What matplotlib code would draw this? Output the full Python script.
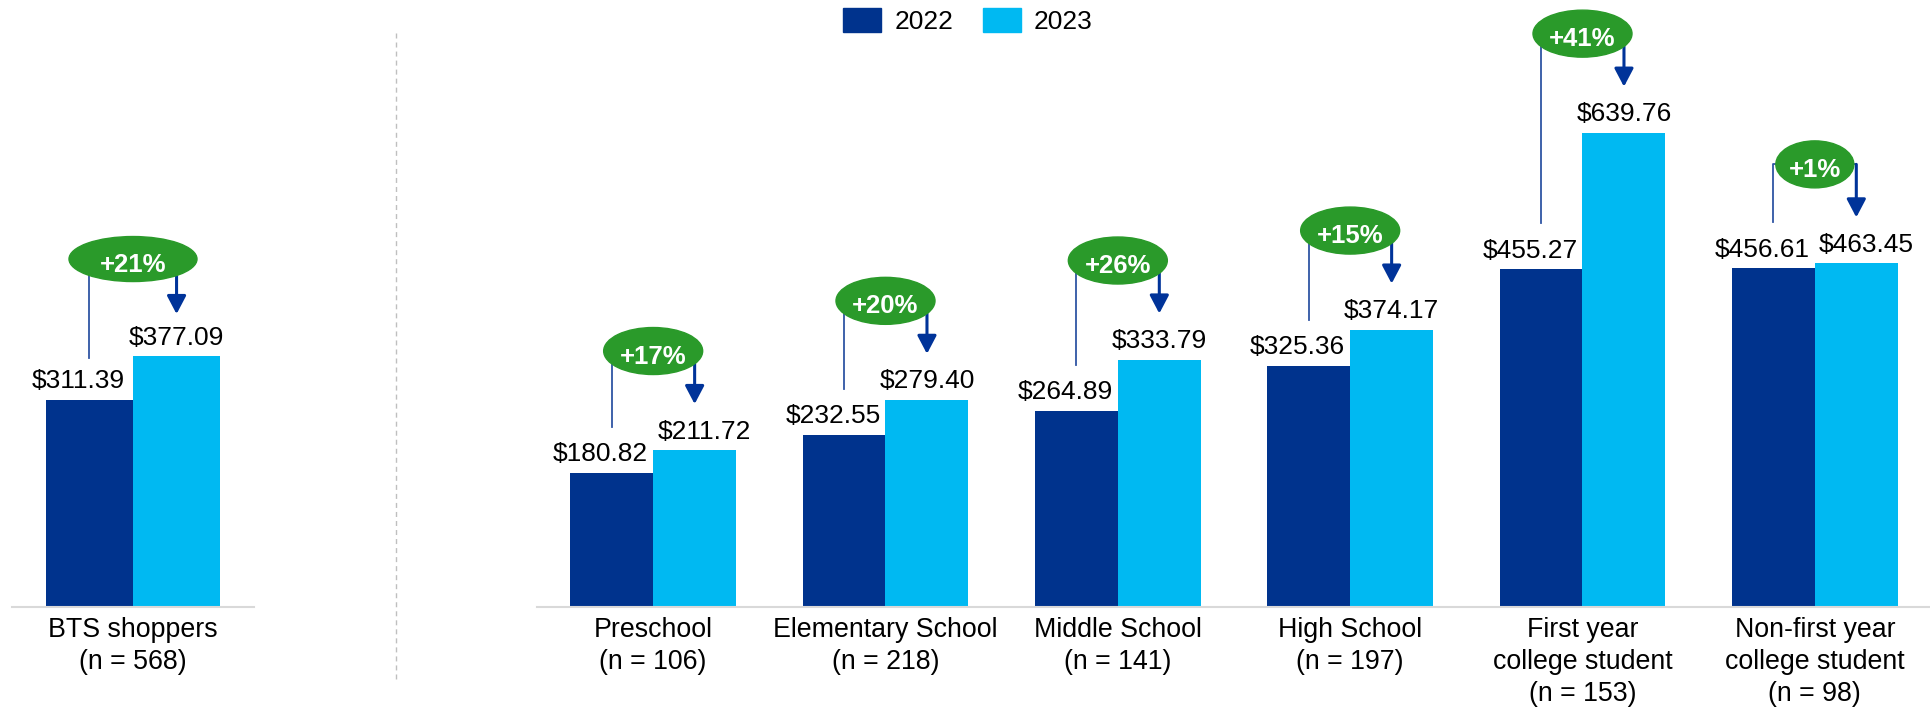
import numpy as np
import matplotlib.pyplot as plt
from matplotlib.patches import Ellipse, Patch
from matplotlib.lines import Line2D
from matplotlib.transforms import IdentityTransform

plt.rcParams['font.family'] = ['Liberation Sans', 'DejaVu Sans']

years = ['2022', '2023']

total_label = ['BTS shoppers\n(n = 568)']
total_2022 = [311.39]
total_2023 = [377.09]
total_change = ['+21%']

grades = ['Preschool\n(n = 106)', 'Elementary School\n(n = 218)',
          'Middle School\n(n = 141)', 'High School\n(n = 197)',
          'First year\ncollege student\n(n = 153)',
          'Non-first year\ncollege student\n(n = 98)']
grade_2022 = [180.82, 232.55, 264.89, 325.36, 455.27, 456.61]
grade_2023 = [211.72, 279.40, 333.79, 374.17, 639.76, 463.45]
grade_change = ['+17%', '+20%', '+26%', '+15%', '+41%', '+1%']

DARK = '#00338D'
LIGHT = '#00B9F2'
GREEN = '#2A9A2A'
W, H = 1931, 714

fig = plt.figure(figsize=(W / 100, H / 100), dpi=100)
ident = IdentityTransform()


def px_axes(left, bottom, right, top):
    # axes box given in image pixels (y from top)
    return fig.add_axes([left / W, 1 - bottom / H, (right - left) / W, (bottom - top) / H])


def draw_panel(ax, labels, a, b, changes, ymax, bw, gap, rise, ell_base, ell_h):
    x = np.arange(len(labels))
    ax.bar(x - bw / 2, a, bw, color=DARK)
    ax.bar(x + bw / 2, b, bw, color=LIGHT)
    ax.set_xlim(-0.5, len(labels) - 0.5)
    ax.set_ylim(0, ymax)
    for s in ['left', 'right', 'top']:
        ax.spines[s].set_visible(False)
    ax.spines['bottom'].set_color('#d9d9d9')
    ax.spines['bottom'].set_linewidth(1.5)
    ax.set_yticks([])
    ax.set_xticks(x, labels, fontsize=19.3, linespacing=1.31)
    ax.tick_params(axis='x', length=0, pad=7)

    unit = ax.transData.transform((0, 1))[1] - ax.transData.transform((0, 0))[1]
    for i in range(len(labels)):
        ax.annotate(f'${a[i]:.2f}', (x[i] - bw / 2, a[i]), xytext=(-11, 11.5),
                    textcoords='offset pixels', ha='center', va='baseline', fontsize=19)
        # push the 2023 label right when it would bump into the 2022 one
        dx = 10 if (b[i] - a[i]) * unit < 30 else 0
        ax.annotate(f'${b[i]:.2f}', (x[i] + bw / 2, b[i]), xytext=(dx, 11.5),
                    textcoords='offset pixels', ha='center', va='baseline', fontsize=19)

        p0 = ax.transData.transform((x[i] - bw / 2, a[i]))
        p1 = ax.transData.transform((x[i] + bw / 2, b[i]))
        yc = p1[1] + rise
        ax.plot([p0[0], p0[0], p1[0]], [p0[1] + gap, yc, yc], transform=ident,
                color='#2F55A4', lw=1.3, clip_on=False)
        ax.annotate('', xy=(p1[0], p1[1] + gap), xytext=(p1[0], yc),
                    xycoords='figure pixels', textcoords='figure pixels',
                    arrowprops=dict(arrowstyle='-|>,head_length=0.38,head_width=0.2',
                                    mutation_scale=29, color='#003399', lw=2.2,
                                    shrinkA=0, shrinkB=0))
        cx = (p0[0] + p1[0]) / 2
        fig.text(cx, yc - 12.5, changes[i], transform=ident, ha='center', va='baseline',
                 color='white', fontsize=18.5, fontweight='bold', zorder=6)
        ew = ell_base + 21 * len(changes[i])
        fig.add_artist(Ellipse((cx, yc), ew, ell_h, transform=ident, color=GREEN, zorder=5))


ax_l = px_axes(12, 607, 254, 20)
ax_r = px_axes(537, 607, 1931, 20)

draw_panel(ax_l, total_label, total_2022, total_2023, total_change,
           ymax=882, bw=0.36, gap=42, rise=97, ell_base=44, ell_h=45)
draw_panel(ax_r, grades, grade_2022, grade_2023, grade_change,
           ymax=791.7, bw=0.357, gap=46, rise=99, ell_base=15, ell_h=47)

# dashed divider between the two panels
fig.add_artist(Line2D([396 / W, 396 / W], [1 - 33 / H, 1 - 683 / H], transform=fig.transFigure,
                      color='#bfbfbf', lw=1, linestyle=(0, (3.6, 2.9))))

fig.legend(handles=[Patch(color=DARK, label=years[0]), Patch(color=LIGHT, label=years[1])],
           loc='center', bbox_to_anchor=(968 / W, 1 - 21 / H), ncol=2, frameon=False,
           fontsize=19, handlelength=1.44, handleheight=1.06, handletextpad=0.5,
           columnspacing=1.1, borderpad=0, borderaxespad=0)

fig.savefig('out.png', dpi=100)
